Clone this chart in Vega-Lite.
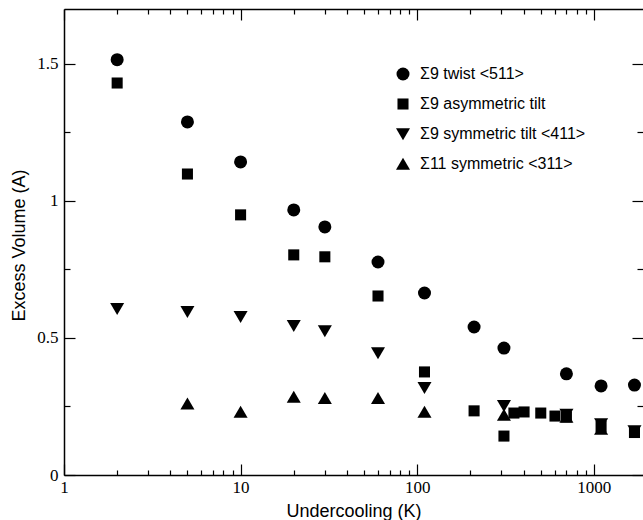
{
  "$schema": "https://vega.github.io/schema/vega-lite/v6.json",
  "width": 579,
  "height": 466,
  "autosize": {"type": "none"},
  "padding": {"left": 64, "top": 9, "right": 0, "bottom": 45},
  "background": "white",
  "config": {
    "view": {"stroke": null},
    "axis": {"grid": false, "domainColor": "black", "tickColor": "black", "labelColor": "black", "titleColor": "black", "domainWidth": 1.5, "tickWidth": 1.2, "labelFlush": false, "labelOverlap": false},
    "legend": {"labelFont": "Liberation Sans", "labelFontSize": 16, "labelColor": "black", "padding": 0, "rowPadding": 14, "labelOffset": 9, "labelLimit": 400, "symbolSize": 169}
  },
  "data": {"values": [
    {"T": 2, "V": 1.515, "s": "Σ9 twist <511>"},
    {"T": 5, "V": 1.288, "s": "Σ9 twist <511>"},
    {"T": 10, "V": 1.142, "s": "Σ9 twist <511>"},
    {"T": 20, "V": 0.967, "s": "Σ9 twist <511>"},
    {"T": 30, "V": 0.905, "s": "Σ9 twist <511>"},
    {"T": 60, "V": 0.777, "s": "Σ9 twist <511>"},
    {"T": 110, "V": 0.664, "s": "Σ9 twist <511>"},
    {"T": 210, "V": 0.54, "s": "Σ9 twist <511>"},
    {"T": 310, "V": 0.463, "s": "Σ9 twist <511>"},
    {"T": 700, "V": 0.369, "s": "Σ9 twist <511>"},
    {"T": 1100, "V": 0.325, "s": "Σ9 twist <511>"},
    {"T": 1700, "V": 0.328, "s": "Σ9 twist <511>"},
    {"T": 2, "V": 1.43, "s": "Σ9 asymmetric tilt"},
    {"T": 5, "V": 1.098, "s": "Σ9 asymmetric tilt"},
    {"T": 10, "V": 0.949, "s": "Σ9 asymmetric tilt"},
    {"T": 20, "V": 0.803, "s": "Σ9 asymmetric tilt"},
    {"T": 30, "V": 0.796, "s": "Σ9 asymmetric tilt"},
    {"T": 60, "V": 0.653, "s": "Σ9 asymmetric tilt"},
    {"T": 110, "V": 0.376, "s": "Σ9 asymmetric tilt"},
    {"T": 210, "V": 0.234, "s": "Σ9 asymmetric tilt"},
    {"T": 310, "V": 0.142, "s": "Σ9 asymmetric tilt"},
    {"T": 353, "V": 0.226, "s": "Σ9 asymmetric tilt"},
    {"T": 403, "V": 0.23, "s": "Σ9 asymmetric tilt"},
    {"T": 501, "V": 0.226, "s": "Σ9 asymmetric tilt"},
    {"T": 603, "V": 0.215, "s": "Σ9 asymmetric tilt"},
    {"T": 700, "V": 0.212, "s": "Σ9 asymmetric tilt"},
    {"T": 1100, "V": 0.177, "s": "Σ9 asymmetric tilt"},
    {"T": 1700, "V": 0.155, "s": "Σ9 asymmetric tilt"},
    {"T": 2, "V": 0.606, "s": "Σ9 symmetric tilt <411>"},
    {"T": 5, "V": 0.595, "s": "Σ9 symmetric tilt <411>"},
    {"T": 10, "V": 0.577, "s": "Σ9 symmetric tilt <411>"},
    {"T": 20, "V": 0.544, "s": "Σ9 symmetric tilt <411>"},
    {"T": 30, "V": 0.525, "s": "Σ9 symmetric tilt <411>"},
    {"T": 60, "V": 0.445, "s": "Σ9 symmetric tilt <411>"},
    {"T": 110, "V": 0.318, "s": "Σ9 symmetric tilt <411>"},
    {"T": 310, "V": 0.252, "s": "Σ9 symmetric tilt <411>"},
    {"T": 700, "V": 0.22, "s": "Σ9 symmetric tilt <411>"},
    {"T": 1100, "V": 0.186, "s": "Σ9 symmetric tilt <411>"},
    {"T": 1700, "V": 0.16, "s": "Σ9 symmetric tilt <411>"},
    {"T": 5, "V": 0.26, "s": "Σ11 symmetric <311>"},
    {"T": 10, "V": 0.23, "s": "Σ11 symmetric <311>"},
    {"T": 20, "V": 0.285, "s": "Σ11 symmetric <311>"},
    {"T": 30, "V": 0.28, "s": "Σ11 symmetric <311>"},
    {"T": 60, "V": 0.28, "s": "Σ11 symmetric <311>"},
    {"T": 110, "V": 0.23, "s": "Σ11 symmetric <311>"},
    {"T": 310, "V": 0.219, "s": "Σ11 symmetric <311>"},
    {"T": 700, "V": 0.212, "s": "Σ11 symmetric <311>"},
    {"T": 1100, "V": 0.168, "s": "Σ11 symmetric <311>"}
  ]},
  "resolve": {"axis": {"x": "independent", "y": "independent"}},
  "layer": [
    {
      "mark": {"type": "point", "filled": true, "color": "black", "opacity": 1, "strokeWidth": 0, "size": 169},
      "encoding": {
        "x": {"field": "T", "type": "quantitative",
          "scale": {"type": "log", "domain": [1, 1900], "nice": false},
          "axis": {"orient": "bottom", "values": [1, 10, 100, 1000], "format": "~g", "tickSize": -11, "labelPadding": 15,
            "labelFont": "Liberation Serif", "labelFontSize": 17, "title": "Undercooling (K)",
            "titleFont": "Liberation Sans", "titleFontSize": 18, "titleFontWeight": "normal", "titlePadding": 7}},
        "y": {"field": "V", "type": "quantitative",
          "scale": {"domain": [0, 1.7], "nice": false, "zero": false},
          "axis": {"orient": "left", "values": [0, 0.5, 1, 1.5], "format": "~g", "tickSize": -11, "labelPadding": 17,
            "labelFont": "Liberation Serif", "labelFontSize": 17, "title": "Excess Volume (A)",
            "titleFont": "Liberation Sans", "titleFontSize": 18, "titleFontWeight": "normal",
            "titleX": -45, "titleY": 236, "titleBaseline": "middle", "titleAngle": -90}},
        "shape": {"field": "s", "type": "nominal",
          "scale": {"domain": ["Σ9 twist <511>", "Σ9 asymmetric tilt", "Σ9 symmetric tilt <411>", "Σ11 symmetric <311>"],
            "range": ["circle", "M-0.85,-0.85H0.85V0.85H-0.85Z", "M-1.08,-0.9L1.08,-0.9L0,0.95Z", "M-1.08,0.9L1.08,0.9L0,-0.95Z"]},
          "legend": {"title": null, "orient": "none", "legendX": 331, "legendY": 57, "symbolFillColor": "black", "symbolStrokeWidth": 0, "symbolType": "circle"}}
      }
    },
    {
      "mark": {"type": "point", "opacity": 0},
      "encoding": {
        "x": {"field": "T", "type": "quantitative",
          "axis": {"orient": "bottom", "values": [2,3,4,5,6,7,8,9,20,30,40,50,60,70,80,90,200,300,400,500,600,700,800,900], "tickSize": -5, "labels": false, "domain": false, "title": null}},
        "y": {"field": "V", "type": "quantitative",
          "axis": {"orient": "left", "values": [0.25, 0.75, 1.25], "tickSize": -6, "labels": false, "domain": false, "title": null}}
      }
    },
    {
      "mark": {"type": "point", "opacity": 0},
      "encoding": {
        "x": {"field": "T", "type": "quantitative",
          "axis": {"orient": "top", "values": [1, 10, 100, 1000], "tickSize": -11, "labels": false, "domain": true, "title": null}},
        "y": {"field": "V", "type": "quantitative",
          "axis": {"orient": "right", "values": [0, 0.5, 1, 1.5], "tickSize": -11, "labels": false, "domain": false, "title": null}}
      }
    },
    {
      "mark": {"type": "point", "opacity": 0},
      "encoding": {
        "x": {"field": "T", "type": "quantitative",
          "axis": {"orient": "top", "values": [2,3,4,5,6,7,8,9,20,30,40,50,60,70,80,90,200,300,400,500,600,700,800,900], "tickSize": -5, "labels": false, "domain": false, "title": null}},
        "y": {"field": "V", "type": "quantitative",
          "axis": {"orient": "right", "values": [0.25, 0.75, 1.25], "tickSize": -6, "labels": false, "domain": false, "title": null}}
      }
    }
  ]
}
